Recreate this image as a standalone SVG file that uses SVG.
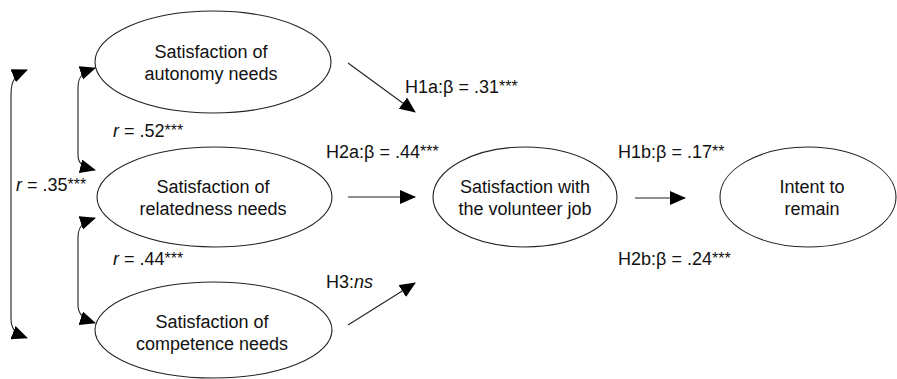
<svg xmlns="http://www.w3.org/2000/svg" width="897" height="379" viewBox="0 0 897 379">
<style>
.node ellipse{fill:#fff;stroke:#222;stroke-width:1.1}
text{font-family:"Liberation Sans",Arial,sans-serif;font-size:18px;fill:#111}
.c{text-anchor:middle}
.ast{font-size:16px}
.conn path,.conn line{fill:none;stroke:#222;stroke-width:1.1}
</style>
<defs>
<marker id="ah" markerUnits="userSpaceOnUse" markerWidth="17" markerHeight="15" refX="15" refY="7" orient="auto-start-reverse">
<path d="M0,0 L16,7 L0,14 z" fill="#000"/>
</marker>
</defs>
<g id="autonomy" class="node">
<ellipse cx="213" cy="62" rx="118" ry="51"/>
<text class="c" x="211" y="58">Satisfaction of</text>
<text class="c" x="211" y="80">autonomy needs</text>
</g>
<g id="relatedness" class="node">
<ellipse cx="214.5" cy="197" rx="117.5" ry="50"/>
<text class="c" x="213" y="193">Satisfaction of</text>
<text class="c" x="213" y="215">relatedness needs</text>
</g>
<g id="competence" class="node">
<ellipse cx="213.5" cy="330" rx="118.5" ry="48"/>
<text class="c" x="212" y="328">Satisfaction of</text>
<text class="c" x="212" y="350">competence needs</text>
</g>
<g id="job" class="node">
<ellipse cx="525" cy="197" rx="92" ry="50"/>
<text class="c" x="525" y="193">Satisfaction with</text>
<text class="c" x="525" y="215">the volunteer job</text>
</g>
<g id="intent" class="node">
<ellipse cx="808" cy="197" rx="88" ry="50"/>
<text class="c" x="812" y="193">Intent to</text>
<text class="c" x="812" y="215">remain</text>
</g>
<g id="connectors" class="conn">
<path d="M27,70 C15,75 11,80 11,95 L11,318 C11,328 14,333 27,338" marker-start="url(#ah)" marker-end="url(#ah)"/>
<path d="M95,68 C83,72 78,76 78,88 L78,155 C78,164 83,167 95,170" marker-start="url(#ah)" marker-end="url(#ah)"/>
<path d="M95,218 C83,222 78,226 78,238 L78,305 C78,314 83,319 95,323" marker-start="url(#ah)" marker-end="url(#ah)"/>
<line x1="348" y1="63" x2="415" y2="112" marker-end="url(#ah)"/>
<line x1="348" y1="197" x2="415" y2="197" marker-end="url(#ah)"/>
<line x1="348" y1="325" x2="415" y2="283" marker-end="url(#ah)"/>
<line x1="635" y1="198" x2="685" y2="198" marker-end="url(#ah)"/>
</g>
<g id="labels">
<text x="113" y="137"><tspan font-style="italic">r</tspan> = .52<tspan class="ast" dy="-1">***</tspan></text>
<text x="113" y="265"><tspan font-style="italic">r</tspan> = .44<tspan class="ast" dy="-1">***</tspan></text>
<text x="16" y="191"><tspan font-style="italic">r</tspan> = .35<tspan class="ast" dy="-1">***</tspan></text>
<text x="405" y="93">H1a:β = .31<tspan class="ast" dy="-1">***</tspan></text>
<text x="326" y="158">H2a:β = .44<tspan class="ast" dy="-1">***</tspan></text>
<text x="326" y="288">H3:<tspan font-style="italic">ns</tspan></text>
<text x="618" y="158">H1b:β = .17<tspan class="ast" dy="-1">**</tspan></text>
<text x="618" y="265">H2b:β = .24<tspan class="ast" dy="-1">***</tspan></text>
</g>
</svg>
